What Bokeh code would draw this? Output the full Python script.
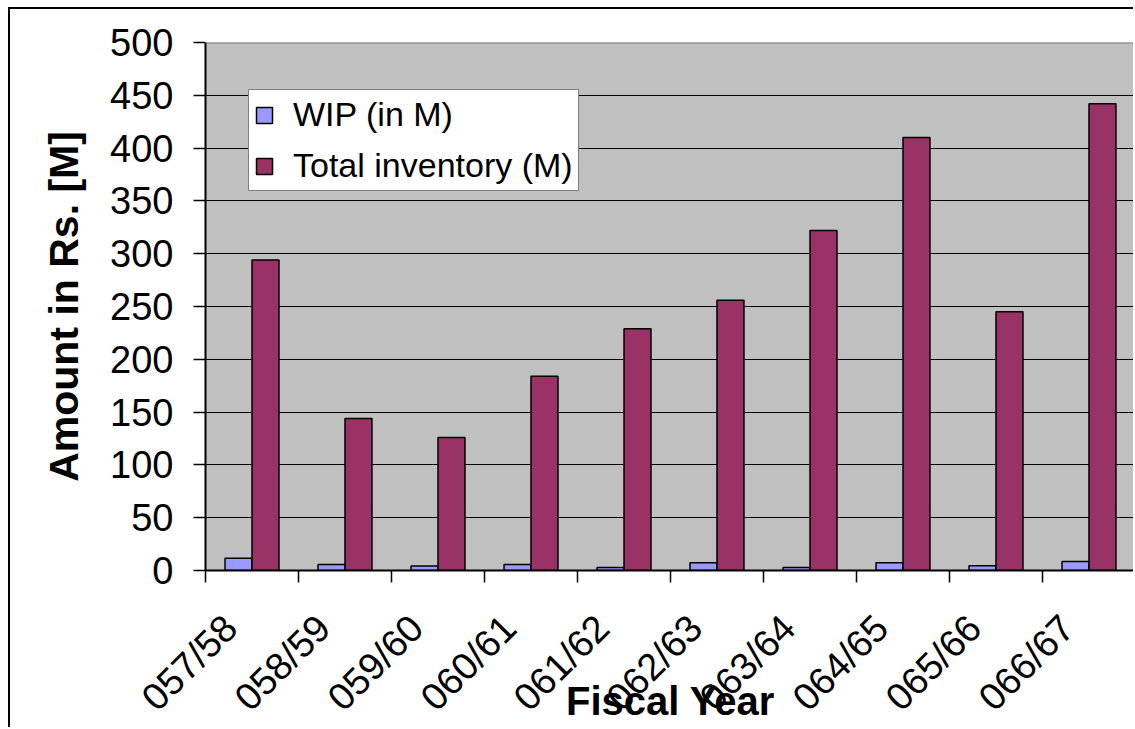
import math
from bokeh.plotting import figure
from bokeh.models import ColumnDataSource, Range1d, FixedTicker, Span
from bokeh.transform import dodge
from bokeh.embed import file_html
from bokeh.resources import INLINE

# ---- data ----
years = ["057/58", "058/59", "059/60", "060/61", "061/62",
         "062/63", "063/64", "064/65", "065/66", "066/67"]
wip = [11.5, 5.8, 4.2, 5.8, 2.8, 7.3, 2.8, 7.3, 4.4, 8.5]
total_inventory = [294, 144, 126, 184, 229, 256, 322, 410, 245, 442]
y_ticks = [0, 50, 100, 150, 200, 250, 300, 350, 400, 450, 500]

FONT = "Liberation Sans"
n = len(years)
idx = list(range(n))
src = ColumnDataSource(dict(x=idx, wip=wip, total=total_inventory))

# rotated category labels sit a little left of the category centre (Excel style)
LBL = 0.23
p = figure(width=1125, height=720, output_backend="svg", toolbar_location=None,
           x_range=Range1d(-0.5 + LBL, n - 0.5 + LBL), y_range=Range1d(0, 500),
           min_border_left=195, min_border_top=33, min_border_bottom=159,
           min_border_right=0)
p.styles = {"margin-left": "8px", "margin-top": "7px",
            "border-left": "2px solid black", "border-top": "2px solid black"}
p.background_fill_color = "#C0C0C0"
p.border_fill_color = "white"
p.outline_line_color = None

bw = 0.29
p.vbar(x=dodge("x", LBL - bw / 2, range=p.x_range), top="wip", width=bw, source=src,
       fill_color="#9999FF", line_color="black", line_width=1.5,
       legend_label="WIP (in M)")
p.vbar(x=dodge("x", LBL + bw / 2, range=p.x_range), top="total", width=bw, source=src,
       fill_color="#993366", line_color="black", line_width=1.5,
       legend_label="Total inventory (M)")

# grid
p.xgrid.visible = False
p.ygrid.ticker = FixedTicker(ticks=y_ticks)
p.ygrid.grid_line_color = "black"
p.ygrid.grid_line_width = 1.2

p.add_layout(Span(location=500, dimension="width", line_color="#808080", line_width=2))

# y axis
ya = p.yaxis[0]
ya.ticker = FixedTicker(ticks=y_ticks)
ya.major_label_text_font = FONT
ya.major_label_text_font_size = "38px"
ya.major_label_text_color = "black"
ya.major_tick_out = 12
ya.major_tick_in = 0
ya.major_tick_line_color = "black"
ya.major_tick_line_width = 1.5
ya.minor_tick_line_color = None
ya.axis_line_color = "black"
ya.axis_line_width = 2
ya.major_label_standoff = 20
ya.axis_label = "Amount in Rs. [M]"
ya.axis_label_text_font = FONT
ya.axis_label_text_font_style = "bold"
ya.axis_label_text_font_size = "41px"
ya.axis_label_text_color = "black"
ya.axis_label_standoff = 20

# x axis
xa = p.xaxis[0]
xa.ticker = FixedTicker(ticks=idx, minor_ticks=[i - 0.5 + LBL for i in range(n + 1)])
xa.major_label_overrides = {i: years[i] for i in idx}
xa.major_label_orientation = math.pi / 4
xa.major_label_text_font = FONT
xa.major_label_text_font_size = "38px"
xa.major_label_text_color = "black"
xa.major_tick_line_color = None
xa.major_tick_out = 0
xa.major_tick_in = 0
xa.minor_tick_line_color = "black"
xa.minor_tick_line_width = 1.5
xa.minor_tick_out = 12
xa.minor_tick_in = 0
xa.axis_line_color = "black"
xa.axis_line_width = 2
xa.major_label_standoff = 39
xa.axis_label = "Fiscal Year"
xa.axis_label_text_font = FONT
xa.axis_label_text_font_style = "bold"
xa.axis_label_text_font_size = "40px"
xa.axis_label_text_color = "black"
xa.axis_label_standoff = -57

# legend
lg = p.legend[0]
lg.location = (43, 379)
lg.label_text_font = FONT
lg.label_text_font_size = "34px"
lg.label_text_color = "black"
lg.glyph_width = 20
lg.glyph_height = 20
lg.label_standoff = 19
lg.padding = 5
lg.spacing = 12
lg.margin = 0
lg.border_line_color = "black"
lg.border_line_width = 1
lg.background_fill_color = "white"
lg.background_fill_alpha = 1

open("out.html", "w").write(file_html(p, INLINE))
